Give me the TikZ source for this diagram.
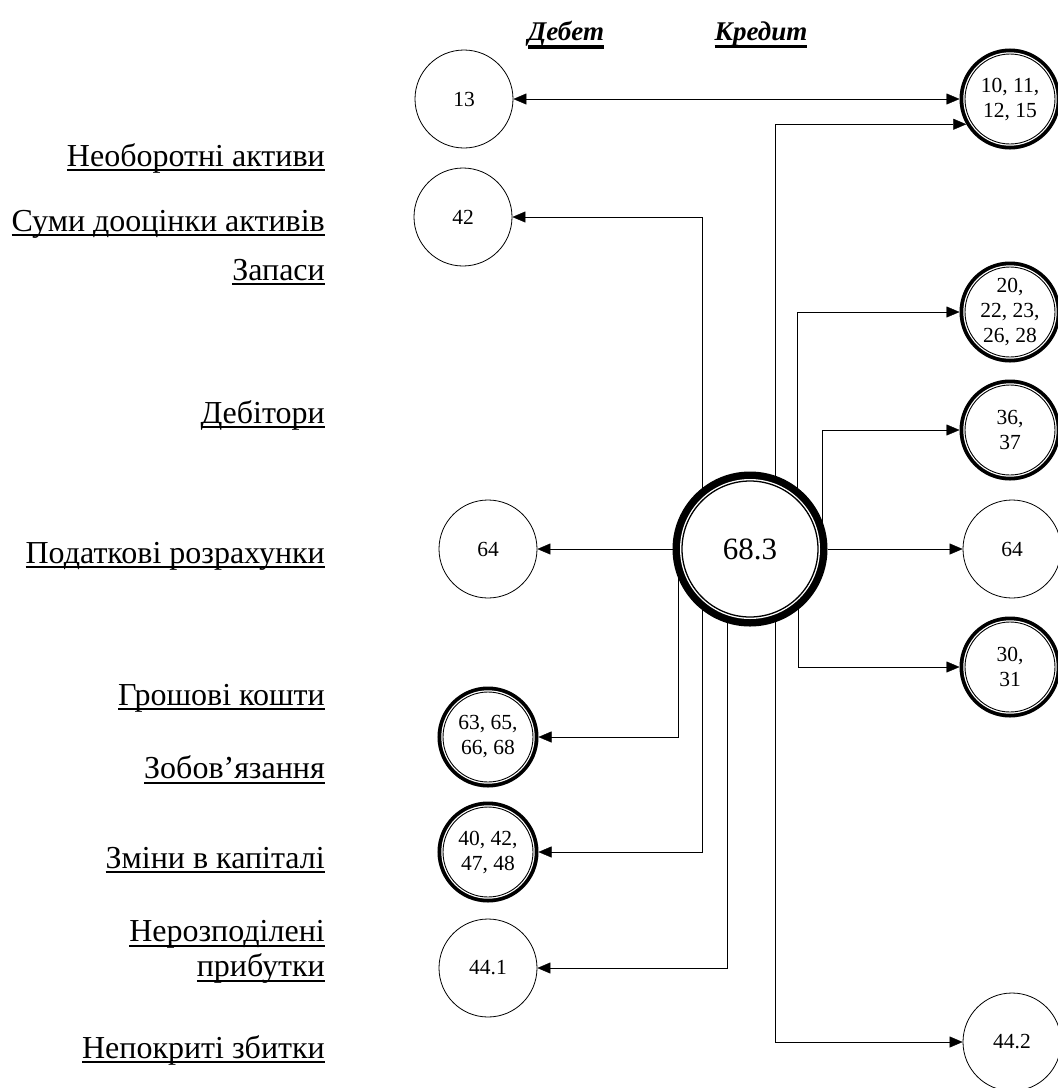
\documentclass[tikz,border=0pt]{standalone}
\usepackage{fontspec}
\setmainfont{Liberation Serif}
\usetikzlibrary{arrows.meta, backgrounds, positioning}

% underline of #3: #1 below the baseline, #2 thick
\newcommand{\ulbox}[3]{\setbox0=\hbox{#3}\leavevmode\rlap{\rule[-#1]{\wd0}{#2}}\box0}
\newcommand{\lblul}[1]{\ulbox{5pt}{1.8pt}{#1}}
\newcommand{\colul}[1]{\ulbox{8pt}{3.2pt}{#1}}

\tikzset{acc/.style={circle, draw, line width=0.8pt, minimum size=98pt, inner sep=0pt, align=center, font=\fontsize{21.5}{25}\selectfont}}
\tikzset{dacc/.style={acc, minimum size=90pt, line width=0.9pt, outer sep=5.5pt,
  preaction={draw, line width=11pt}, preaction={fill=white}, preaction={draw=white, line width=3.4pt}}}
\tikzset{hub/.style={circle, draw, line width=1.3pt, minimum size=136pt, inner sep=0pt, outer sep=9.5pt, font=\fontsize{31}{36}\selectfont,
  preaction={draw, line width=19pt}, preaction={fill=white}, preaction={draw=white, line width=4pt}}}
\tikzset{lbl/.style={anchor=east, align=right, inner sep=0pt, font=\fontsize{32}{35}\selectfont}}
\tikzset{colhead/.style={inner sep=0pt, font=\fontsize{27}{32}\selectfont\bfseries\itshape}}

\begin{document}
\begin{tikzpicture}[x=1pt, y=-1pt, >={Triangle[length=13pt, width=11pt]}]
\useasboundingbox (0,0) rectangle (1058,1088);

% Column heads
\node[colhead] (debet) at (566,35) {\colul{Дебет}};
\node[colhead] (kredit) at (761,35) {\colul{Кредит}};

% Balance items
\node[lbl] (neob) at (325,158) {\lblul{Необоротні активи}};
\node[lbl] (doots) at (325,224) {\lblul{Суми дооцінки активів}};
\node[lbl] (zap) at (325,272) {\lblul{Запаси}};
\node[lbl] (deb) at (325,415) {\lblul{Дебітори}};
\node[lbl] (podat) at (325,556) {\lblul{Податкові розрахунки}};
\node[lbl] (grosh) at (325,698) {\lblul{Грошові кошти}};
\node[lbl] (zob) at (325,770) {\lblul{Зобов’язання}};
\node[lbl] (kap) at (325,860) {\lblul{Зміни в капіталі}};
\node[lbl] (nerozp) at (325,952) {\lblul{Нерозподілені}\\\lblul{прибутки}};
\node[lbl] (nepokr) at (325,1050) {\lblul{Непокриті збитки}};

% The central account
\node[hub] (hub) at (750,549) {68.3};

% Debit side
\node[acc] (d13) at (464,99) {13};
\node[acc] (d42) at (463,217) {42};
\node[acc] (d64) at (488,549) {64};
\node[dacc] (d63) at (488,737) {63, 65,\\66, 68};
\node[dacc] (d40) at (488,852) {40, 42,\\47, 48};
\node[acc] (d441) at (488,968) {44.1};

% Credit side
\node[dacc] (k10) at (1010,99) {10, 11,\\12, 15};
\node[dacc] (k20) at (1010,312) {20,\\22, 23,\\26, 28};
\node[dacc] (k36) at (1010,430) {36,\\37};
\node[acc] (k64) at (1012,549) {64};
\node[dacc] (k30) at (1010,667) {30,\\31};
\node[acc] (k442) at (1012,1042) {44.2};

% Connectors
\begin{scope}[on background layer, line width=1.7pt]
\draw[<->] (d13) -- (k10);
\draw[->] ([xshift=-48pt]hub.center) |- (d42);
\draw[->] ([xshift=25pt]hub.center) |- (k10.210);
\draw[->] ([xshift=47pt]hub.center) |- (k20);
\draw[->] ([xshift=72pt]hub.center) |- (k36);
\draw[->] (hub) -- (k64);
\draw[->] (hub) -- (d64);
\draw[->] ([xshift=48pt]hub.center) |- (k30);
\draw[->] ([xshift=25pt]hub.center) |- (k442);
\draw[->] ([xshift=-72pt]hub.center) |- (d63);
\draw[->] ([xshift=-48pt]hub.center) |- (d40);
\draw[->] ([xshift=-23pt]hub.center) |- (d441);
\end{scope}

\end{tikzpicture}
\end{document}
